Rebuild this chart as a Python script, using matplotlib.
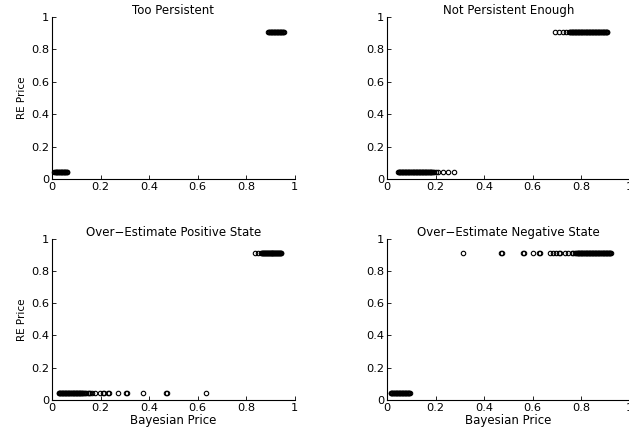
import matplotlib
matplotlib.use('Agg')
import matplotlib.pyplot as plt

plt.rcParams['font.family'] = ['DejaVu Sans']

# RE 价格的两个水平
re_low = 0.045
re_high = 0.91

# Too Persistent
tp_low_x = [0.010, 0.0125, 0.015, 0.0175, 0.020, 0.0225, 0.025, 0.0275, 0.030, 0.0325,
            0.035, 0.0375, 0.040, 0.0425, 0.045, 0.0475, 0.050, 0.0525, 0.055, 0.0575,
            0.060, 0.062]
tp_high_x = [0.890, 0.8925, 0.895, 0.8975, 0.900, 0.9025, 0.905, 0.9075, 0.910, 0.9125,
             0.915, 0.9175, 0.920, 0.9225, 0.925, 0.9275, 0.930, 0.9325, 0.935, 0.9375,
             0.940, 0.9425, 0.945, 0.9475, 0.950, 0.9525, 0.955]

# Not Persistent Enough
npe_low_x = [0.045, 0.0475, 0.050, 0.0525, 0.055, 0.0575, 0.060, 0.0625, 0.065, 0.0675,
             0.070, 0.0725, 0.075, 0.0775, 0.080, 0.0825, 0.085, 0.0875, 0.090, 0.0925,
             0.095, 0.0975, 0.100, 0.1025, 0.105, 0.1075, 0.110, 0.1125, 0.115, 0.1175,
             0.120, 0.1225, 0.125, 0.1275, 0.130, 0.1325, 0.135, 0.1375, 0.140, 0.1425,
             0.145, 0.1475, 0.150, 0.1525, 0.155, 0.1575, 0.160, 0.1625, 0.165, 0.1675,
             0.170, 0.1725, 0.175, 0.1775, 0.180, 0.1825, 0.185, 0.190, 0.195, 0.200,
             0.212, 0.230, 0.250, 0.275]
npe_high_x = [0.691, 0.709, 0.723, 0.739, 0.748, 0.752, 0.755, 0.7575, 0.760, 0.7625, 0.765,
              0.7675, 0.770, 0.7725, 0.775, 0.7775, 0.780, 0.7825, 0.785, 0.7875, 0.790,
              0.7925, 0.795, 0.7975, 0.800, 0.8025, 0.805, 0.8075, 0.810, 0.8125, 0.815,
              0.8175, 0.820, 0.8225, 0.825, 0.8275, 0.830, 0.8325, 0.835, 0.8375, 0.840,
              0.8425, 0.845, 0.8475, 0.850, 0.8525, 0.855, 0.8575, 0.860, 0.8625, 0.865,
              0.8675, 0.870, 0.8725, 0.875, 0.8775, 0.880, 0.8825, 0.885, 0.8875, 0.890,
              0.8925, 0.895, 0.8975, 0.900, 0.9025, 0.905, 0.908]

# Over-Estimate Positive State
pos_low_x = [0.027, 0.0295, 0.032, 0.0345, 0.037, 0.0395, 0.042, 0.0445, 0.047, 0.0495,
             0.052, 0.0545, 0.057, 0.0595, 0.062, 0.0645, 0.067, 0.0695, 0.072, 0.0745,
             0.077, 0.0795, 0.082, 0.0845, 0.087, 0.0895, 0.092, 0.0945, 0.097, 0.0995,
             0.102, 0.1045, 0.107, 0.1095, 0.112, 0.1145, 0.117, 0.1195, 0.122, 0.1245,
             0.127, 0.132, 0.137, 0.142, 0.147, 0.152, 0.158, 0.163, 0.177, 0.198, 0.208,
             0.213, 0.232, 0.236, 0.272, 0.305, 0.309, 0.376, 0.469, 0.473, 0.633]
pos_high_x = [0.835, 0.849, 0.862, 0.864, 0.866, 0.868, 0.870, 0.872, 0.874, 0.876, 0.878,
              0.880, 0.882, 0.884, 0.886, 0.888, 0.890, 0.892, 0.894, 0.896, 0.898, 0.900,
              0.902, 0.904, 0.906, 0.908, 0.910, 0.912, 0.914, 0.916, 0.918, 0.920, 0.922,
              0.924, 0.926, 0.928, 0.930, 0.932, 0.934, 0.936, 0.938, 0.940, 0.942, 0.945]

# Over-Estimate Negative State
neg_low_x = [0.015, 0.0175, 0.020, 0.0225, 0.025, 0.0275, 0.030, 0.0325, 0.035, 0.0375,
             0.040, 0.0425, 0.045, 0.0475, 0.050, 0.0525, 0.055, 0.0575, 0.060, 0.0625,
             0.065, 0.0675, 0.070, 0.0725, 0.075, 0.0775, 0.080, 0.0825, 0.085, 0.0875,
             0.090, 0.0925, 0.095]
neg_high_x = [0.311, 0.469, 0.474, 0.562, 0.566, 0.600, 0.625, 0.629, 0.671, 0.684, 0.698,
              0.710, 0.714, 0.733, 0.746, 0.760, 0.767, 0.774, 0.780, 0.7825, 0.785, 0.7875,
              0.790, 0.7925, 0.795, 0.7975, 0.800, 0.8025, 0.805, 0.8075, 0.810, 0.8125,
              0.815, 0.8175, 0.820, 0.8225, 0.825, 0.8275, 0.830, 0.8325, 0.835, 0.8375,
              0.840, 0.8425, 0.845, 0.8475, 0.850, 0.8525, 0.855, 0.8575, 0.860, 0.8625,
              0.865, 0.8675, 0.870, 0.8725, 0.875, 0.8775, 0.880, 0.8825, 0.885, 0.8875,
              0.890, 0.8925, 0.895, 0.8975, 0.900, 0.9025, 0.905, 0.9075, 0.910, 0.9125,
              0.915, 0.9175, 0.920, 0.924]

panels = [
    ("Too Persistent", tp_low_x, tp_high_x),
    ("Not Persistent Enough", npe_low_x, npe_high_x),
    ("Over\u2212Estimate Positive State", pos_low_x, pos_high_x),
    ("Over\u2212Estimate Negative State", neg_low_x, neg_high_x),
]

# 坐标轴位置 (像素换算)
positions = [
    [0.0827, 0.589, 0.386, 0.372],
    [0.6153, 0.589, 0.386, 0.372],
    [0.0827, 0.0826, 0.386, 0.370],
    [0.6153, 0.0826, 0.386, 0.370],
]

fig = plt.figure(figsize=(6.29, 4.36), dpi=100)
ticks = [0, 0.2, 0.4, 0.6, 0.8, 1]
tick_labels = ['0', '0.2', '0.4', '0.6', '0.8', '1']

for i, (title, low_x, high_x) in enumerate(panels):
    ax = fig.add_axes(positions[i])
    ax.plot(low_x, [re_low] * len(low_x), 'o', mfc='none', mec='black', ms=3.2, mew=0.8,
            clip_on=False)
    ax.plot(high_x, [re_high] * len(high_x), 'o', mfc='none', mec='black', ms=3.2, mew=0.8,
            clip_on=False)
    ax.set_xlim(0, 1)
    ax.set_ylim(0, 1)
    ax.set_xticks(ticks)
    ax.set_xticklabels(tick_labels)
    ax.set_yticks(ticks)
    ax.set_yticklabels(tick_labels)
    ax.spines['top'].set_visible(False)
    ax.spines['right'].set_visible(False)
    ax.spines['left'].set_linewidth(0.8)
    ax.spines['bottom'].set_linewidth(0.8)
    ax.tick_params(direction='in', length=3, width=0.6, labelsize=8.2, pad=2)
    ax.set_title(title, fontsize=8.5, pad=2)
    if i % 2 == 0:
        ax.set_ylabel('RE Price', fontsize=7.5, labelpad=3)
    if i >= 2:
        ax.set_xlabel('Bayesian Price', fontsize=8.5, labelpad=1)

fig.savefig('out.png', dpi=100)
